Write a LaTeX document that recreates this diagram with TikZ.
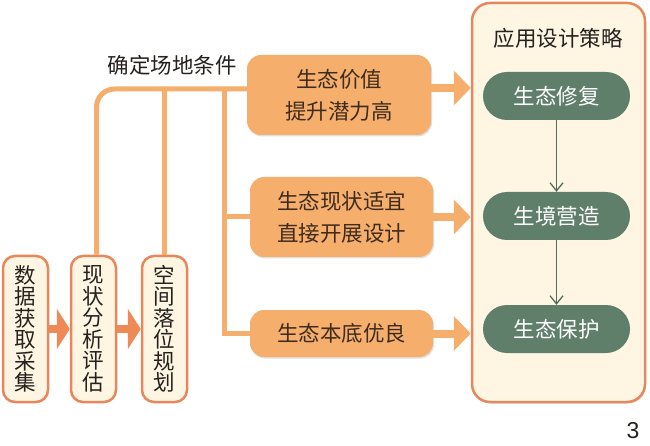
\documentclass[tikz,border=0pt]{standalone}
\usepackage{fontspec}
\setmainfont{Noto Sans CJK SC}
\newfontfamily\numfont{Liberation Sans}
\usetikzlibrary{arrows.meta,shadows}
\definecolor{cream}{HTML}{FEF5E3}
\definecolor{rim}{HTML}{E8875B}
\definecolor{peach}{HTML}{F5AE6C}
\definecolor{deeporange}{HTML}{EE8A55}
\definecolor{sage}{HTML}{5F7F6B}
\definecolor{ink}{HTML}{24211E}
\definecolor{umber}{HTML}{3F2C1D}
\tikzset{
  colbox/.style={draw=rim, line width=2.5pt, fill=cream, rounded corners=12pt,
    minimum width=45pt, minimum height=146pt, text=ink, align=center, inner sep=0pt,
    font=\fontsize{21.5}{21.5}\selectfont},
  condbox/.style={fill=peach, rounded corners=14pt, minimum width=184pt, text=umber,
    align=center, font=\fontsize{21.5}{32}\selectfont,
    drop shadow={shadow xshift=1pt, shadow yshift=-1.5pt, opacity=0.25}},
  pill/.style={fill=sage, text=white, rounded corners=24pt, minimum width=147pt,
    minimum height=48pt, font=\fontsize{21.5}{24}\selectfont},
  feed/.style={peach, line width=5pt},
  bigarrow/.style={peach, line width=8pt, -{Triangle[width=34pt,length=17pt]}},
  steparrow/.style={deeporange, line width=8pt, -{Triangle[width=40pt,length=13pt]}},
  flow/.style={sage!85!black, line width=1.3pt, -{Straight Barb[length=8pt,width=13pt]}},
}
\begin{document}
\begin{tikzpicture}[x=1pt, y=-1pt]
    \useasboundingbox (0,0) rectangle (650,446);

    \node[colbox] (col1) at (25.5, 329) {数\\据\\获\\取\\采\\集};
    \node[colbox] (col2) at (93.5, 329) {现\\状\\分\\析\\评\\估};
    \node[colbox] (col3) at (164.5, 329) {空\\间\\落\\位\\规\\划};

    \node[text=ink, font=\fontsize{21.5}{24}\selectfont] (site) at (172, 65) {确定场地条件};

    \node[condbox, minimum height=80pt] (val) at (339, 95) {生态价值\\提升潜力高};
    \node[condbox, minimum height=80pt, minimum width=183pt] (cur) at (341.5, 217) {生态现状适宜\\直接开展设计};
    \node[condbox, minimum height=47pt, minimum width=183pt] (base) at (341.5, 333.5) {生态本底优良};

    \node[draw=rim, line width=2.5pt, fill=cream, rounded corners=18pt, minimum width=173pt,
      minimum height=399pt, drop shadow={shadow xshift=1pt, shadow yshift=-1.5pt, opacity=0.25}]
      (strat) at (558.5, 202.5) {};
    \node[text=ink, font=\fontsize{21.5}{24}\selectfont] (title) at (558, 38) {应用设计策略};

    \node[pill] (g1) at (556.5, 96) {生态修复};
    \node[pill] (g2) at (556.5, 216) {生境营造};
    \node[pill] (g3) at (556.5, 329) {生态保护};

    \node[font=\numfont\fontsize{23}{24}\selectfont, text=ink] (pageno) at (633, 431) {3};

    \coordinate (split) at (224, 89);

    \draw[feed, rounded corners=18pt] ([xshift=3pt]col2.north) |- ([yshift=6pt]val.west);
    \draw[feed] (col3.north) -- (col3.north |- split);
    \draw[feed] (split) |- (base.west);
    \draw[feed] (split |- cur.west) -- (cur.west);

    \draw[steparrow] (col1.east) -- (col2.west);
    \draw[steparrow] (col2.east) -- (col3.west);

    \draw[bigarrow] ([yshift=7pt]val.east) -- ([yshift=7pt]val.east -| strat.west);
    \draw[bigarrow] (cur.east) -- (cur.east -| strat.west);
    \draw[bigarrow] (base.east) -- (base.east -| strat.west);

    \draw[flow] (g1) -- (g2);
    \draw[flow] (g2) -- (g3);
\end{tikzpicture}
\end{document}
